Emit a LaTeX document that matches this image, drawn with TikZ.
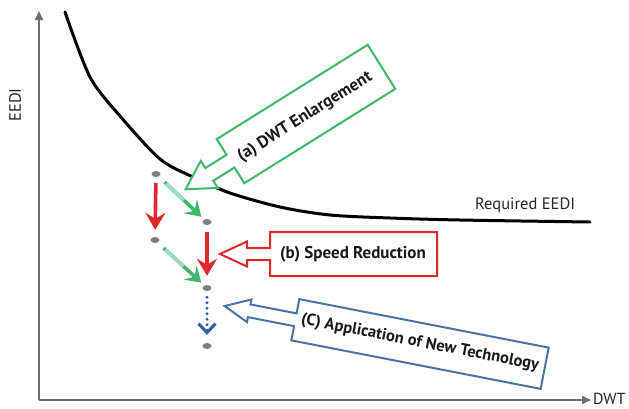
\documentclass[tikz,border=0pt]{standalone}
\usepackage{fontspec}
\setmainfont{PT Sans}
\usetikzlibrary{arrows.meta,shapes.geometric,calc}

\definecolor{cgreen}{HTML}{3DB868}
\definecolor{cteal}{HTML}{A0D9CA}
\definecolor{cred}{HTML}{E0262B}
\definecolor{cblue}{HTML}{4A74A8}
\definecolor{cdarkblue}{HTML}{2F5CA5}
\definecolor{caxis}{HTML}{6E6E6E}
\definecolor{cdot}{HTML}{808080}

\tikzset{
  axisline/.style={draw=caxis, line width=1.8pt, -{Triangle[length=9pt,width=8pt]}},
  axlabel/.style={font=\fontsize{16.5}{19}\selectfont, text=black!85, inner sep=0pt},
  curveline/.style={draw=black, line width=3pt, line cap=round},
  ptdot/.style={ellipse, fill=cdot, draw=none, minimum width=9pt, minimum height=6pt, inner sep=0pt},
  redarrow/.style={draw=cred, line width=3.6pt, -{Stealth[length=17pt,width=20pt,inset=6pt]}},
  greenarrow/.style={draw=cgreen, line width=3.6pt, -{Stealth[length=15pt,width=19pt,inset=6pt]}},
  tealpart/.style={draw=cteal, line width=3.6pt},
  bluedots/.style={draw=cdarkblue, line width=3.2pt, line cap=round, dash pattern=on 0pt off 5.5pt,
    -{Straight Barb[length=9pt,width=17pt,line width=3pt]}},
  callout/.style={line width=2pt, fill=white, line join=miter},
  callouttext/.style={font=\bfseries\fontsize{17}{20}\selectfont, text=black!90, transform shape, inner sep=0pt}
}

% callout: centre, angle, box width/height, shaft width, shaft length, head length, head width, colour
\newcommand{\calloutbox}[9]{%
  \begin{scope}[shift={#1}, rotate=#2]
    \pgfmathsetmacro{\hw}{#3/2}\pgfmathsetmacro{\hh}{#4/2}
    \pgfmathsetmacro{\sw}{#5/2}\pgfmathsetmacro{\sx}{-\hw-#6}
    \pgfmathsetmacro{\tx}{\sx-#7}\pgfmathsetmacro{\hwid}{#8/2}
    \draw[callout, draw=#9]
      (-\hw,-\hh) -- (\hw,-\hh) -- (\hw,\hh) -- (-\hw,\hh) -- (-\hw,\sw)
      -- (\sx,\sw) -- (\sx,\hwid) -- (\tx,0) -- (\sx,-\hwid) -- (\sx,-\sw)
      -- (-\hw,-\sw) -- cycle;
  \end{scope}}

\begin{document}
\begin{tikzpicture}[x=1pt,y=-1pt]
  \useasboundingbox (0,0) rectangle (629,408);

  % axes
  \coordinate (O) at (39,400);
  \coordinate (ytop) at (39,11);
  \coordinate (xend) at (591,400);
  \draw[axisline] (O) -- (ytop);
  \draw[axisline] (O) -- (xend);
  \node[axlabel, rotate=90] (ylab) at (15,105) {EEDI};
  \node[axlabel, anchor=west, font=\fontsize{16}{19}\selectfont] (xlab) at (593,399) {DWT};

  % required EEDI curve
  \draw[curveline] plot[smooth, tension=0.5] coordinates
    {(65,12) (90,77) (120,116) (160,159) (193,177) (230,193)
     (280,207) (330,215) (390,218) (460,220) (590,222)};
  \node[axlabel, anchor=base west] (req) at (475,209) {Required EEDI};

  % design points
  \node[ptdot] (p1) at (156,174) {};
  \node[ptdot] (p2) at (155,240) {};
  \node[ptdot] (p3) at (207,222) {};
  \node[ptdot] (p4) at (207,288) {};
  \node[ptdot] (p5) at (207,346) {};

  % steps
  \draw[redarrow, shorten <=6pt, shorten >=7pt] (p1) -- (p2);
  \draw[redarrow, shorten <=7pt, shorten >=9pt] (p3) -- (p4);
  \draw[greenarrow, shorten <=8pt, shorten >=4pt] (p1) -- (p3);
  \draw[tealpart] ($(p1)!0.2!(p3)$) -- ($(p1)!0.55!(p3)$);
  \draw[greenarrow, shorten <=8pt, shorten >=4pt] (p2) -- (p4);
  \draw[tealpart] ($(p2)!0.2!(p4)$) -- ($(p2)!0.55!(p4)$);
  \draw[bluedots, shorten <=6pt, shorten >=8pt] (p4) -- (p5);

  % callouts
  \calloutbox{(306,114)}{32}{178}{52}{15}{25}{28}{32}{cgreen}
  \node[callouttext, rotate=32] (ta) at (305,117) {(a) DWT Enlargement};

  \calloutbox{(353.5,254)}{0}{167}{44}{12}{23}{27}{25}{cred}
  \node[callouttext] (tb) at (353,254) {(b) Speed Reduction};

  \calloutbox{(420,344)}{-11}{254}{42}{13}{47}{25}{23}{cblue}
  \node[callouttext, rotate=-11, font=\bfseries\fontsize{16.5}{20}\selectfont] (tc) at (420,343) {(C) Application of New Technology};
\end{tikzpicture}
\end{document}
